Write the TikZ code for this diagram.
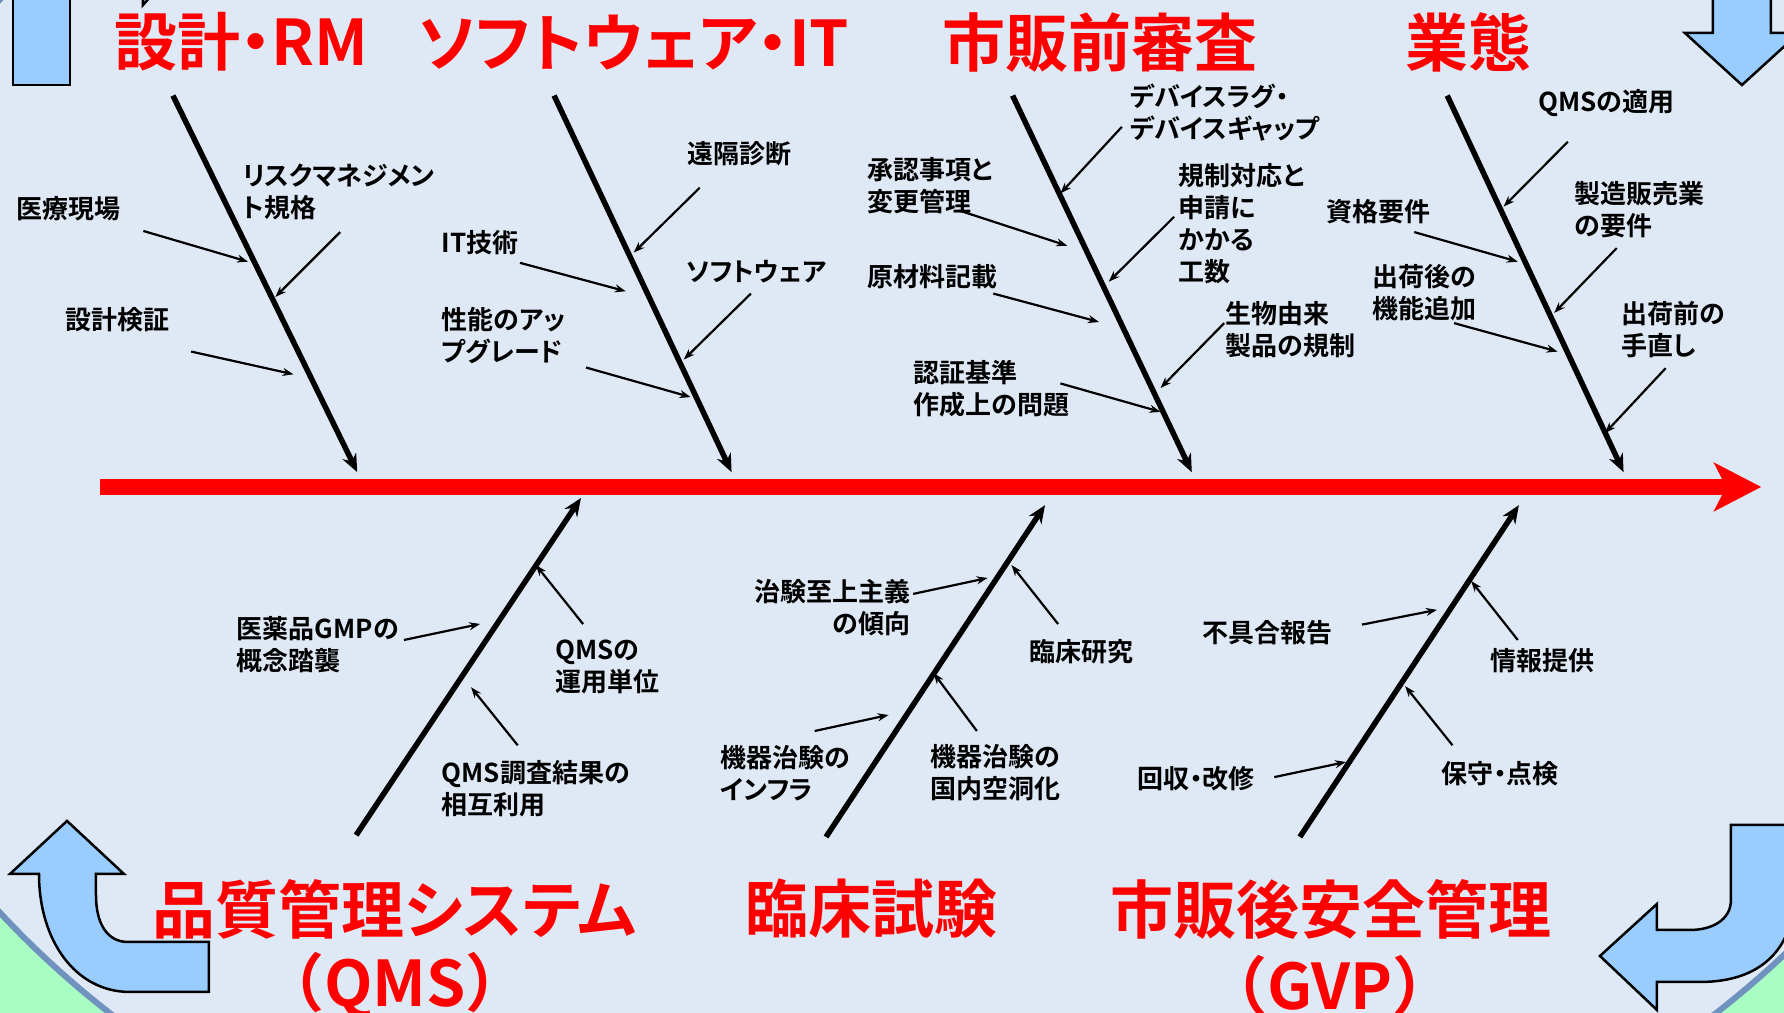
\documentclass[tikz,border=0pt]{standalone}
\usepackage{fontspec}
\setmainfont{Noto Sans CJK JP Bold}[RawFeature=+palt]
\newfontfamily\jpw{Noto Sans CJK JP Bold}
\usetikzlibrary{arrows.meta}
\definecolor{bgblue}{RGB}{223,233,246}
\definecolor{bggreen}{RGB}{168,253,194}
\definecolor{rimblue}{RGB}{112,146,190}
\definecolor{arrowblue}{RGB}{153,204,255}
\definecolor{titlered}{RGB}{255,0,0}
\begin{document}
\begin{tikzpicture}[x=1.1378pt,y=-1.1378pt,
  title/.style={text=titlered, font=\fontsize{63}{70}\selectfont, inner sep=0pt, anchor=center},
  lbl/.style={font=\fontsize{26}{32}\selectfont, inner sep=0pt, align=left, anchor=west},
  bone/.style={line width=5.5pt, -{Stealth[length=18pt,width=15pt]}},
  twig/.style={line width=2.2pt, -{Stealth[length=11pt,width=8pt]}},
  turn/.style={fill=arrowblue, draw=black, line width=2.5pt, line join=miter},
]
\useasboundingbox (0,0) rectangle (1568,890);
\begin{scope}
\clip (0,0) rectangle (1568,890);
\fill[bggreen] (0,0) rectangle (1568,890);
\begin{scope}[x=1pt,y=-1pt]
\filldraw[fill=bgblue, draw=rimblue, line width=6pt] (913,456) ellipse [x radius=1104, y radius=812];
% bottom-left U-turn arrow
\filldraw[turn] (209,992) -- (130,992) .. controls (75,992) and (39,940) .. (39,874) -- (10,874) -- (67,821) -- (124,874) -- (96,874) -- (96,895) .. controls (96,925) and (108,942) .. (128,942) -- (209,942) -- cycle;
% bottom-right U-turn arrow
\filldraw[turn] (1731,825) -- (1731,900) .. controls (1731,920) and (1712,930) .. (1690,930) -- (1657,930) -- (1657,904) -- (1600,956) -- (1657,1010) -- (1657,982) -- (1700,982) .. controls (1765,982) and (1795,945) .. (1795,890) -- (1795,825) -- cycle;
% top-right down arrow
\filldraw[turn] (1713,-10) -- (1713,33) -- (1685,33) -- (1742,85) -- (1799,33) -- (1771,33) -- (1771,-10) -- cycle;
% top-left up arrow shaft and head corner
\filldraw[turn] (13,-10) -- (13,85) -- (70,85) -- (70,-10) -- cycle;
\filldraw[turn] (143,-20) -- (143,5) -- (165,-20) -- cycle;
\end{scope}
\end{scope}

% main spine
\coordinate (redL) at (88,428);
\coordinate (redR) at (1548,428);
\draw[red, line width=16pt, -{Stealth[length=47pt,width=48pt,inset=12pt]}] (redL) -- (redR);

% titles
\node[title] (tRM) at (212,37) {設計・RM};
\node[title] (tIT) at (557,37) {ソフトウェア・IT};
\node[title] (tPre) at (967,37) {市販前審査};
\node[title] (tBiz) at (1291,37) {業態};
\node[title] (tQMS) at (347,799) {品質管理システム};
\node[title] (tQMSb) at (347,866) {\jpw （QMS）};
\node[title] (tCT) at (766,799) {臨床試験};
\node[title] (tGVP) at (1170,799) {市販後安全管理};
\node[title] (tGVPb) at (1169,866) {\jpw （GVP）};

% bones
\coordinate (s1a) at (152,84);   \coordinate (s1b) at (314,415);
\coordinate (s2a) at (487,84);   \coordinate (s2b) at (643,415);
\coordinate (s3a) at (890,84);   \coordinate (s3b) at (1047.5,415);
\coordinate (s4a) at (1272,84);  \coordinate (s4b) at (1427,415);
\coordinate (b1a) at (313,734);  \coordinate (b1b) at (510.6,437.7);
\coordinate (b2a) at (726,735.6); \coordinate (b2b) at (918.5,444);
\coordinate (b3a) at (1142.5,735.6); \coordinate (b3b) at (1335,444);
\foreach \p in {s1,s2,s3,s4,b1,b2,b3} \draw[bone] (\p a) -- (\p b);

% labels
\node[lbl] (l11) at (14,183) {医療現場};
\node[lbl] (l12) at (213,168.5) {リスクマネジメン\\ト規格};
\node[lbl] (l13) at (57,281) {設計検証};
\node[lbl] (l21) at (604,135) {遠隔診断};
\node[lbl] (l22) at (388,213) {IT技術};
\node[lbl] (l23) at (603,239) {ソフトウェア};
\node[lbl] (l24) at (388,294.5) {性能のアッ\\プグレード};
\node[lbl] (l31) at (993,98.5) {デバイスラグ・\\デバイスギャップ};
\node[lbl] (l32) at (762,163.5) {承認事項と\\変更管理};
\node[lbl] (l33) at (1036,197) {規制対応と\\申請に\\かかる\\工数};
\node[lbl] (l34) at (762,243) {原材料記載};
\node[lbl] (l35) at (1077,290) {生物由来\\製品の規制};
\node[lbl] (l36) at (803,342) {認証基準\\作成上の問題};
\node[lbl] (l41) at (1352,91) {QMSの適用};
\node[lbl] (l42) at (1384,184) {製造販売業\\の要件};
\node[lbl] (l43) at (1166,186) {資格要件};
\node[lbl] (l44) at (1206,257) {出荷後の\\機能追加};
\node[lbl] (l45) at (1425,290) {出荷前の\\手直し};
\node[lbl] (l51) at (208,567) {医薬品GMPの\\概念踏襲};
\node[lbl] (l52) at (488,586.5) {QMSの\\運用単位};
\node[lbl] (l53) at (388,693.5) {QMS調査結果の\\相互利用};
\node[lbl, align=right, anchor=east] (l61) at (800,534) {治験至上主義\\の傾向};
\node[lbl] (l62) at (905,573) {臨床研究};
\node[lbl] (l63) at (633,679.5) {機器治験の\\インフラ};
\node[lbl] (l64) at (818,679.5) {機器治験の\\国内空洞化};
\node[lbl] (l71) at (1057,556) {不具合報告};
\node[lbl] (l72) at (1310,581) {情報提供};
\node[lbl] (l73) at (1000,684) {回収・改修};
\node[lbl] (l74) at (1267,680) {保守・点検};

% twig arrows
\coordinate (a1s) at (126,203);    \coordinate (a1e) at (218,230);
\coordinate (a2s) at (299,204);    \coordinate (a2e) at (242,261);
\coordinate (a3s) at (168,309);    \coordinate (a3e) at (258,329);
\coordinate (c21s) at (615,165);   \coordinate (c21e) at (557,222);
\coordinate (c22s) at (457,231);   \coordinate (c22e) at (550,256);
\coordinate (c23s) at (660,258);   \coordinate (c23e) at (601,316);
\coordinate (c24s) at (515,323);   \coordinate (c24e) at (607,349);
\coordinate (c31s) at (986,111.5); \coordinate (c31e) at (932,170);
\coordinate (c32s) at (843,185);   \coordinate (c32e) at (938,216);
\coordinate (c33s) at (1032,190.5); \coordinate (c33e) at (974.5,247.6);
\coordinate (c34s) at (873,258);   \coordinate (c34e) at (966,283);
\coordinate (c35s) at (1076,284);  \coordinate (c35e) at (1020,341);
\coordinate (c36s) at (932,337);   \coordinate (c36e) at (1020,362);
\coordinate (c41s) at (1378,124.6); \coordinate (c41e) at (1321.5,181.6);
\coordinate (c42s) at (1421,218);  \coordinate (c42e) at (1366,275);
\coordinate (c43s) at (1243,204);  \coordinate (c43e) at (1334,230);
\coordinate (c44s) at (1278,284);  \coordinate (c44e) at (1369,309);
\coordinate (c45s) at (1464,323.6); \coordinate (c45e) at (1410.6,380.7);
\coordinate (c51s) at (355,562.5); \coordinate (c51e) at (422,548.4);
\coordinate (c52s) at (512.5,548.5); \coordinate (c52e) at (471,496.6);
\coordinate (c53s) at (455,655);   \coordinate (c53e) at (414,604);
\coordinate (c61s) at (802.6,522); \coordinate (c61e) at (868,508);
\coordinate (c62s) at (930,548.5); \coordinate (c62e) at (889,496.6);
\coordinate (c63s) at (716,642.5); \coordinate (c63e) at (781,628.4);
\coordinate (c64s) at (858.6,642.5); \coordinate (c64e) at (820.5,591.5);
\coordinate (c71s) at (1197,549);  \coordinate (c71e) at (1263,536);
\coordinate (c72s) at (1334,562.5); \coordinate (c72e) at (1293,510.6);
\coordinate (c73s) at (1120,683);  \coordinate (c73e) at (1183,669.7);
\coordinate (c74s) at (1276.6,655); \coordinate (c74e) at (1235,603);
\foreach \p in {a1,a2,a3,c21,c22,c23,c24,c31,c32,c33,c34,c35,c36,c41,c42,c43,c44,c45,c51,c52,c53,c61,c62,c63,c64,c71,c72,c73,c74}
  \draw[twig] (\p s) -- (\p e);
\end{tikzpicture}
\end{document}
